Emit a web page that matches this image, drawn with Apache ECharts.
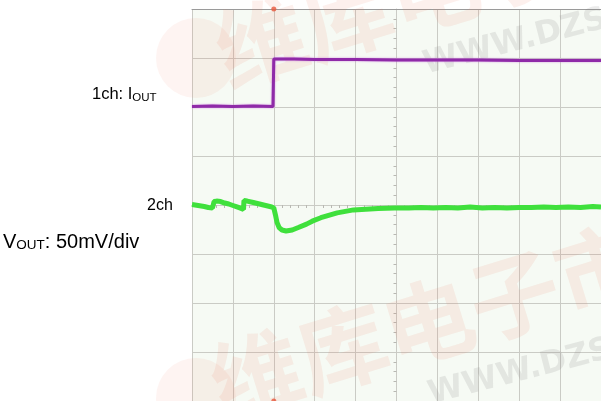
<!DOCTYPE html>
<html>
<head>
<meta charset="utf-8">
<script src="https://cdn.jsdelivr.net/npm/echarts@6/dist/echarts.min.js"></script>
<style>html,body{margin:0;padding:0;background:#fff}#c{width:601px;height:401px}</style>
</head>
<body>
<div id="c"></div>
<script>
// time in divisions from screen centre, amplitude in divisions from screen centre
var ch1Label = '1ch: I';
var ch2LabelTop = '2ch';
var ch2LabelScale = ': 50mV/div';
var xDivs = [-5, 5];
var yDivs = [-4, 4];

var ch1Iout = [
  [-5.0, 2.01], [-4.5, 2.02], [-4.0, 2.01], [-3.5, 2.02], [-3.02, 2.01],
  [-3.0, 2.98], [-2.5, 2.98], [-2.0, 2.97], [-1.0, 2.97], [0.0, 2.96],
  [1.0, 2.96], [2.0, 2.96], [3.0, 2.95], [4.0, 2.95], [5.0, 2.95]
];

var ch2Vout = [
  [-5.0, 0.01], [-4.85, -0.01], [-4.7, -0.03], [-4.6, -0.05], [-4.5, -0.06],
  [-4.47, -0.08], [-4.46, 0.07], [-4.4, 0.08], [-4.3, 0.07], [-4.2, 0.04],
  [-4.1, 0.02], [-4.0, -0.01], [-3.9, -0.04], [-3.8, -0.07], [-3.74, -0.09],
  [-3.73, 0.09], [-3.65, 0.08], [-3.5, 0.05], [-3.35, 0.02], [-3.2, -0.01],
  [-3.05, -0.04], [-3.0, -0.06], [-2.96, -0.2], [-2.92, -0.36], [-2.87, -0.46],
  [-2.8, -0.51], [-2.7, -0.53], [-2.55, -0.51], [-2.4, -0.46], [-2.2, -0.39],
  [-2.06, -0.33], [-1.85, -0.26], [-1.66, -0.21], [-1.45, -0.16], [-1.25, -0.13],
  [-1.05, -0.1], [-0.85, -0.09], [-0.45, -0.07], [-0.05, -0.06], [0.3, -0.06],
  [0.6, -0.05], [0.9, -0.06], [1.2, -0.05], [1.5, -0.06], [1.8, -0.04],
  [2.1, -0.06], [2.4, -0.05], [2.7, -0.06], [3.0, -0.05], [3.3, -0.05],
  [3.6, -0.04], [3.9, -0.05], [4.2, -0.04], [4.5, -0.05], [4.8, -0.03], [5.0, -0.04]
];

var trigger = [[-3.0, 4], [-3.0, -4]];

var chart = echarts.init(document.getElementById('c'), null, {renderer: 'canvas'});
var gridColor = '#cacbc5';
var font = 'Liberation Sans, Arial, sans-serif';
var wmPink = 'rgba(238,120,95,0.11)';
var wmGray = 'rgba(120,120,120,0.15)';

chart.setOption({
  animation: false,
  backgroundColor: '#ffffff',
  grid: {left: 192, top: 9, width: 413, height: 394, show: true,
         backgroundColor: '#f6faf4', borderWidth: 0},
  xAxis: [{
    type: 'value', min: xDivs[0], max: xDivs[1], interval: 1,
    axisLine: {show: true, onZero: true, lineStyle: {color: gridColor}},
    axisTick: {show: false},
    minorTick: {show: true, splitNumber: 5, length: 3, lineStyle: {color: '#b8b8b2'}},
    axisLabel: {show: false},
    splitLine: {show: true, lineStyle: {color: gridColor, width: 1}}
  }, {
    type: 'value', position: 'top', min: xDivs[0], max: xDivs[1],
    axisLine: {show: true, onZero: false, lineStyle: {color: '#9a9a9a', width: 1}},
    axisTick: {show: false}, axisLabel: {show: false}, splitLine: {show: false}
  }],
  yAxis: {
    type: 'value', min: yDivs[0], max: yDivs[1], interval: 1,
    axisLine: {show: true, onZero: true, lineStyle: {color: gridColor}},
    axisTick: {show: false},
    minorTick: {show: true, splitNumber: 5, length: 3, lineStyle: {color: '#b8b8b2'}},
    axisLabel: {show: false},
    splitLine: {show: true, lineStyle: {color: gridColor, width: 1}}
  },
  graphic: [
    {type: 'circle', z: 1, shape: {cx: 196, cy: 58, r: 40}, style: {fill: 'rgba(238,110,90,0.08)'}},
    {type: 'circle', z: 1, shape: {cx: 196, cy: 398, r: 40}, style: {fill: 'rgba(238,110,90,0.08)'}},
    {type: 'text', z: 1, x: 205, y: 12, rotation: 0.3,
     style: {text: '维库电子市场', font: 'bold 90px "Noto Sans CJK SC"', fill: wmPink}},
    {type: 'text', z: 1, x: 420, y: 50, rotation: 0.25,
     style: {text: 'WWW.DZSC.COM', font: 'bold 32px "DejaVu Sans"', fill: wmGray}},
    {type: 'text', z: 1, x: 200, y: 345, rotation: 0.3,
     style: {text: '维库电子市场', font: 'bold 90px "Noto Sans CJK SC"', fill: wmPink}},
    {type: 'text', z: 1, x: 425, y: 380, rotation: 0.25,
     style: {text: 'WWW.DZSC.COM', font: 'bold 32px "DejaVu Sans"', fill: wmGray}},
    {type: 'text', z: 3, left: 92, top: 86,
     style: {text: '{m|' + ch1Label + '}{s|OUT}', rich: {
       m: {font: '16.5px ' + font, fill: '#000'},
       s: {font: '11.5px ' + font, fill: '#000', padding: [6, 0, 0, 0]}}}},
    {type: 'text', z: 3, left: 147, top: 198,
     style: {text: ch2LabelTop, font: '16px ' + font, fill: '#000'}},
    {type: 'text', z: 3, left: 3, top: 232,
     style: {text: '{m|V}{s|OUT}{m|' + ch2LabelScale + '}', rich: {
       m: {font: '20px ' + font, fill: '#000'},
       s: {font: '13.5px ' + font, fill: '#000', padding: [7, 0, 0, 0]}}}}
  ],
  series: [{
    type: 'line', data: ch2Vout, showSymbol: false, z: 4,
    lineStyle: {color: '#3fe03c', width: 5}
  }, {
    type: 'line', data: ch1Iout, showSymbol: false, z: 5,
    lineStyle: {color: '#8f2aa8', width: 3, shadowColor: 'rgba(200,110,220,0.8)', shadowBlur: 2}
  }, {
    type: 'scatter', data: trigger, symbol: 'circle', symbolSize: 5, z: 6,
    itemStyle: {color: '#e8583c'}
  }]
});
</script>
</body>
</html>
